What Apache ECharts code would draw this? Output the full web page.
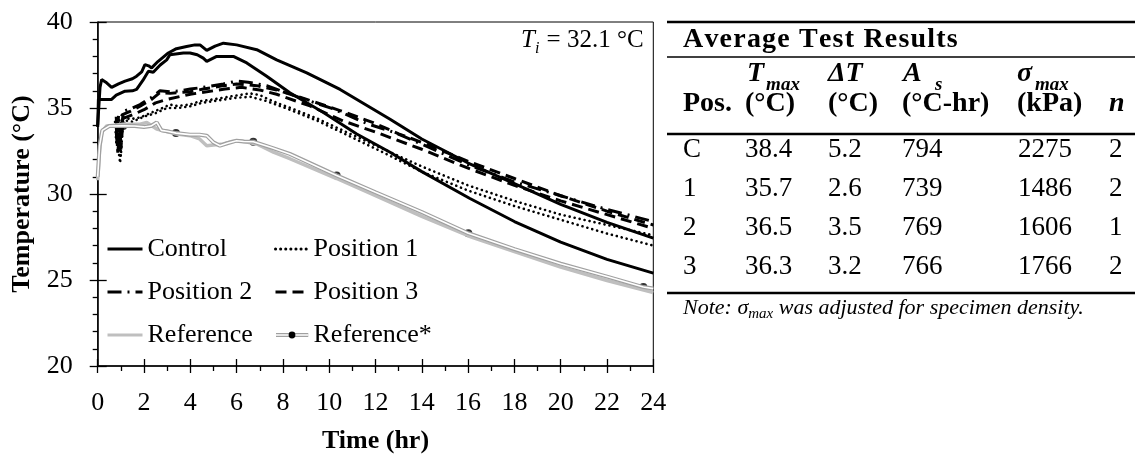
<!DOCTYPE html>
<html>
<head>
<meta charset="utf-8">
<script src="https://cdn.jsdelivr.net/npm/echarts@6/dist/echarts.min.js"></script>
<style>
  html, body { margin: 0; padding: 0; background: #fff; }
  #chart { width: 1135px; height: 459px; }
</style>
</head>
<body>
<div id="chart"></div>
<script>
// ---- axis ticks ----
const timeTicks = [0, 2, 4, 6, 8, 10, 12, 14, 16, 18, 20, 22, 24];
const tempTicks = [20, 25, 30, 35, 40];

// ---- temperature histories: [time (hr), temperature (°C)] ----
const controlA = [[0,34.0],[0.1,36.2],[0.17,36.66],[0.35,36.5],[0.6,36.2],[0.9,36.4],[1.18,36.56],[1.5,36.7],[1.68,36.85],[1.9,37.1],[2.04,37.52],[2.2,37.45],[2.33,37.33],[2.6,37.7],[3.05,38.2],[3.4,38.45],[3.84,38.58],[4.2,38.67],[4.42,38.67],[4.71,38.35],[5.07,38.6],[5.43,38.77],[6.0,38.67],[6.87,38.39],[7.73,37.8],[9.03,37.04],[10.47,36.08],[12.63,34.35],[14,33.2],[16,31.8],[18,30.6],[20,29.4],[22,28.35],[24,27.43]];
const controlB = [[0,33.9],[0.03,35.5],[0.3,35.5],[0.6,35.5],[0.8,35.75],[1.18,35.98],[1.5,36.0],[1.68,36.08],[1.95,36.6],[2.19,37.14],[2.4,37.08],[2.7,37.5],[2.98,37.8],[3.12,38.1],[3.7,38.2],[3.99,38.2],[4.3,38.1],[4.56,37.9],[4.71,37.71],[5.14,38.0],[5.86,38.0],[6.44,37.62],[7.3,36.85],[8.3,35.89],[9.75,34.74],[11.19,33.49],[12.63,32.43],[14,31.3],[16.08,29.74],[18,28.4],[20,27.2],[22,26.2],[24,25.4]];
const pos1A = [[0.75,34.2],[0.8,33.0],[0.85,34.4],[0.9,32.5],[0.97,31.8],[1.05,34.5],[1.4,34.35],[1.83,34.45],[2.33,34.74],[2.8,35.0],[3.12,35.2],[3.41,35.12],[3.99,35.2],[4.42,35.4],[5.0,35.5],[5.43,35.6],[5.86,35.7],[6.58,35.85],[7.0,35.75],[7.3,35.55],[8.02,35.15],[8.3,35.02],[9.46,34.4],[10.9,33.5],[12.2,32.7],[14,31.6],[16,30.5],[18,29.6],[20,28.8],[22,28.2],[24,27.6]];
const pos1B = [[0.8,33.8],[0.88,32.9],[0.92,33.6],[1.0,32.2],[1.1,34.3],[1.5,34.2],[2.0,34.5],[2.5,34.7],[3.0,35.0],[3.5,35.0],[4.0,35.1],[4.5,35.3],[5.0,35.4],[5.5,35.5],[6.0,35.6],[6.6,35.65],[7.3,35.4],[8.3,34.9],[9.5,34.25],[10.9,33.35],[12.2,32.5],[14,31.3],[16,30.2],[18,29.3],[20,28.5],[22,27.7],[24,27.0]];
const pos2 = [[0.8,34.5],[0.85,33.3],[0.9,34.6],[1.0,33.0],[1.1,34.8],[1.5,35.0],[1.83,35.2],[2.3,35.6],[2.69,36.0],[3.12,35.95],[3.6,36.0],[4.0,36.1],[4.56,36.2],[5.43,36.4],[6.0,36.56],[6.5,36.5],[7.3,36.3],[8.73,35.6],[10.17,34.95],[11.62,34.1],[12.77,33.6],[14,32.9],[16,31.7],[18,30.7],[20,29.9],[22,29.1],[24,28.4]];
const pos3A = [[0.8,34.0],[0.85,32.8],[0.9,33.9],[0.95,32.9],[1.05,34.6],[1.4,34.8],[1.83,35.1],[2.33,35.5],[2.69,35.9],[3.12,35.85],[4.0,35.95],[4.56,36.1],[5.43,36.3],[6.0,36.4],[6.87,36.3],[7.73,36.05],[9.03,35.5],[10.47,34.85],[11.9,34.15],[13,33.5],[14,33.0],[16,31.9],[18,30.9],[20,29.9],[22,29.0],[24,28.2]];
const pos3B = [[0.8,33.6],[0.87,32.4],[0.93,33.5],[1.0,32.6],[1.1,34.4],[1.5,34.6],[2.0,34.9],[2.5,35.3],[3.0,35.5],[4.0,35.8],[4.5,35.9],[5.5,36.1],[6.2,36.2],[7.0,36.05],[7.73,35.8],[9.17,35.12],[10.6,34.25],[12,33.6],[14,32.6],[16,31.5],[18,30.5],[20,29.6],[22,28.8],[24,28.0]];
const reference = [[0,30.8],[0.08,32.5],[0.17,33.58],[0.39,33.96],[1.1,34.06],[1.83,34.06],[2.12,34.16],[2.3,34.0],[2.55,33.78],[3.41,33.49],[3.99,33.39],[4.4,33.2],[4.71,32.81],[5.0,32.85],[5.43,32.91],[5.8,33.05],[6.15,33.1],[6.87,32.91],[7.59,32.43],[8.3,32.05],[10.32,30.9],[12,29.9],[14,28.7],[16.08,27.53],[18,26.65],[20,25.75],[22,24.97],[24,24.27]];
const referenceStar = [[0,31.0],[0.08,32.8],[0.2,33.7],[0.5,33.95],[1.1,33.96],[1.6,33.95],[2.0,33.9],[2.3,33.95],[2.55,34.16],[2.75,33.7],[3.0,33.65],[3.38,33.54],[3.99,33.45],[4.4,33.45],[4.71,33.39],[5.0,33.0],[5.28,32.81],[5.6,32.95],[6.0,33.1],[6.3,33.05],[6.72,33.04],[7.5,32.7],[8.3,32.33],[10.32,31.08],[12,30.1],[14,28.95],[16.01,27.72],[18,26.8],[20,25.95],[22,25.2],[23.57,24.59],[24,24.5]];
const referenceStarMarkTimes = [1.1, 3.38, 6.72, 10.32, 16.01, 23.57];

// ---- average test results table ----
const tablePos = ['C', '1', '2', '3'];
const tableTmax = ['38.4', '35.7', '36.5', '36.3'];
const tableDeltaT = ['5.2', '2.6', '3.5', '3.2'];
const tableAs = ['794', '739', '769', '766'];
const tableSigma = ['2275', '1486', '1606', '1766'];
const tableN = ['2', '2', '1', '2'];
const initialTemp = '32.1';

// ---------------------------------------------------------------
const SERIF = '"Liberation Serif", "Times New Roman", serif';
const measureCtx = document.createElement('canvas').getContext('2d');
function fontStr(size, bold, italic) {
  return (italic ? 'italic ' : '') + (bold ? 'bold ' : '') + size + 'px ' + SERIF;
}
function textW(str, size, bold, italic) {
  measureCtx.font = fontStr(size, bold, italic);
  return measureCtx.measureText(str).width;
}
function txt(x, y, str, size, bold, italic, align) {
  return {
    type: 'text', x: x, y: y, silent: true,
    style: {
      text: str, fill: '#000', fontFamily: SERIF, fontSize: size,
      fontWeight: bold ? 'bold' : 'normal', fontStyle: italic ? 'italic' : 'normal',
      align: align || 'left', verticalAlign: 'middle'
    }
  };
}
// text drawn character by character with extra tracking
function spacedTxt(out, x, y, str, size, bold, italic, track) {
  for (const ch of str) {
    out.push(txt(x, y, ch, size, bold, italic));
    x += textW(ch, size, bold, italic) + track;
  }
}
function rule(y, w) {
  return { type: 'line', silent: true, shape: { x1: 667, y1: y, x2: 1135, y2: y }, style: { stroke: '#000', lineWidth: w } };
}

const graphics = [];
// initial temperature note inside the plot
{
  const x0 = 521, y0 = 40, fs = 25;
  graphics.push(txt(x0, y0, 'T', fs, false, true));
  const wT = textW('T', fs, false, true);
  graphics.push(txt(x0 + wT, y0 + 9, 'i', 16, false, true));
  graphics.push(txt(x0 + wT + textW('i', 16, false, true) + 1, y0, ' = ' + initialTemp + ' °C', fs, false, false));
}
// table rules
graphics.push(rule(22, 2.5), rule(57, 1.5), rule(134, 2.5), rule(293, 2.5));
// table heading
const TS = 27, TB = 28, SUB = 19;
const colX = [683, 745, 828, 902, 1017, 1109];
spacedTxt(graphics, 683, 40, 'Average Test Results', TB, true, false, 1.2);
const h1 = 74, h2 = 104;
graphics.push(txt(colX[1] + 2, h1, 'T', TB, true, true));
graphics.push(txt(colX[1] + 2 + textW('T', TB, true, true) + 2, h1 + 11, 'max', SUB, true, true));
graphics.push(txt(colX[2], h1, 'ΔT', TB, true, true));
graphics.push(txt(colX[3] + 1, h1, 'A', TB, true, true));
graphics.push(txt(935, h1 + 11, 's', SUB, true, true));
graphics.push(txt(colX[4], h1, 'σ', TB, true, true));
graphics.push(txt(colX[4] + textW('σ', TB, true, true) + 3, h1 + 11, 'max', SUB, true, true));
const units = ['Pos.', '(°C)', '(°C)', '(°C-hr)', '(kPa)'];
units.forEach((u, i) => graphics.push(txt(colX[i], h2, u, TB, true, false)));
graphics.push(txt(colX[5], h2, 'n', TB, true, true));
// table body
const rowY = [150, 189, 228, 267];
const cols = [tablePos, tableTmax, tableDeltaT, tableAs, tableSigma, tableN];
rowY.forEach((y, r) => {
  cols.forEach((c, i) => graphics.push(txt(colX[i] + (i === 4 ? 1 : 0), y, c[r], TS, false, false)));
});
// footnote
{
  const y0 = 308, fs = 22, sub = 15;
  let x = 683;
  const a = 'Note: σ';
  graphics.push(txt(x, y0, a, fs, false, true));
  x += textW(a, fs, false, true);
  graphics.push(txt(x, y0 + 6, 'max', sub, false, true));
  x += textW('max', sub, false, true);
  graphics.push(txt(x, y0, ' was adjusted for specimen density.', fs, false, true));
}

// ---------------------------------------------------------------
const BLACK = '#000';
const GREY = '#bfbfbf';
const lineBase = { type: 'line', showSymbol: false, symbol: 'none', smooth: false, silent: true, emphasis: { disabled: true }, xAxisIndex: 0, yAxisIndex: 0 };
function mk(name, data, lineStyle, extra) {
  return Object.assign({}, lineBase, { name: name, data: data, lineStyle: lineStyle }, extra || {});
}
const styleControl = { color: BLACK, width: 3, type: 'solid' };
const styleP1 = { color: BLACK, width: 2.6, type: [0.1, 5], cap: 'round' };
const styleP2 = { color: BLACK, width: 3, type: [14, 6, 2, 6] };
const styleP3 = { color: BLACK, width: 3, type: [11, 6] };

const refStarIcon = 'image://data:image/svg+xml;charset=utf-8,' + encodeURIComponent(
  '<svg xmlns="http://www.w3.org/2000/svg" width="35" height="14">' +
  '<line x1="0" y1="7" x2="35" y2="7" stroke="#a0a0a0" stroke-width="4"/>' +
  '<line x1="0" y1="7" x2="35" y2="7" stroke="#ffffff" stroke-width="1.6"/>' +
  '<circle cx="17.5" cy="7" r="3.6" fill="#000"/></svg>');

const series = [
  mk('Control', controlA, styleControl, { itemStyle: { color: BLACK } }),
  mk('Control', controlB, styleControl, { itemStyle: { color: BLACK } }),
  mk('Position 1', pos1A, styleP1, { itemStyle: { color: BLACK } }),
  mk('Position 1', pos1B, styleP1, { itemStyle: { color: BLACK } }),
  mk('Position 2', pos2, styleP2, { itemStyle: { color: BLACK } }),
  mk('Position 3', pos3A, styleP3, { itemStyle: { color: BLACK } }),
  mk('Position 3', pos3B, styleP3, { itemStyle: { color: BLACK } }),
  mk('Reference', reference, { color: GREY, width: 3.5 }, { itemStyle: { color: GREY } }),
  mk('Reference*', referenceStar, { color: '#a0a0a0', width: 4 }, { itemStyle: { color: '#a0a0a0' } }),
  mk('Reference*', referenceStar, { color: '#ffffff', width: 1.6 }, { itemStyle: { color: '#ffffff' } }),
  {
    name: 'Reference*', type: 'scatter', silent: true, symbol: 'circle', symbolSize: 8,
    itemStyle: { color: BLACK }, emphasis: { disabled: true },
    data: referenceStar.filter(p => referenceStarMarkTimes.indexOf(p[0]) >= 0)
  }
];

const axisText = { fontFamily: SERIF, fontSize: 26, color: '#000' };
const tickLine = { color: '#000', width: 1.3 };
const xMin = timeTicks[0], xMax = timeTicks[timeTicks.length - 1], xStep = timeTicks[1] - timeTicks[0];
const yMin = tempTicks[0], yMax = tempTicks[tempTicks.length - 1], yStep = tempTicks[1] - tempTicks[0];

// legend: line swatches only (no point symbol); Reference* uses its own swatch
const legendCommon = {
  orient: 'vertical', top: 235, itemGap: 15, itemHeight: 14, padding: 0,
  selectedMode: false,
  itemStyle: { opacity: 0 },
  lineStyle: { width: 3 },
  textStyle: { fontFamily: SERIF, fontSize: 26, color: '#000', lineHeight: 28 }
};

const option = {
  animation: false,
  backgroundColor: '#fff',
  grid: { left: 97.7, right: 481.7, top: 22, bottom: 90, show: true, borderColor: '#000', borderWidth: 1, containLabel: false },
  xAxis: [
    {
      type: 'value', min: xMin, max: xMax, interval: xStep, position: 'bottom',
      axisLine: { show: true, onZero: false, lineStyle: { color: '#000', width: 1.5 } },
      axisTick: { show: true, length: 7, lineStyle: tickLine },
      minorTick: { show: true, splitNumber: 2, length: 5, lineStyle: tickLine },
      axisLabel: Object.assign({ margin: 24 }, axisText),
      splitLine: { show: false }, minorSplitLine: { show: false },
      name: 'Time (hr)', nameLocation: 'middle', nameGap: 62,
      nameTextStyle: Object.assign({}, axisText, { fontWeight: 'bold' })
    },
    {
      type: 'value', min: xMin, max: xMax, interval: xStep, position: 'bottom',
      axisLine: { show: false, onZero: false },
      axisTick: { show: true, inside: true, length: 7, lineStyle: tickLine },
      axisLabel: { show: false }, splitLine: { show: false }
    }
  ],
  yAxis: [
    {
      type: 'value', min: yMin, max: yMax, interval: yStep, position: 'left',
      axisLine: { show: true, onZero: false, lineStyle: { color: '#000', width: 1.5 } },
      axisTick: { show: true, length: 8, lineStyle: tickLine },
      minorTick: { show: true, splitNumber: 5, length: 5, lineStyle: tickLine },
      axisLabel: Object.assign({ margin: 25 }, axisText),
      splitLine: { show: false }, minorSplitLine: { show: false },
      name: 'Temperature (°C)', nameLocation: 'middle', nameGap: 62,
      nameTextStyle: Object.assign({}, axisText, { fontWeight: 'bold' })
    },
    {
      type: 'value', min: yMin, max: yMax, interval: yStep, position: 'left',
      axisLine: { show: false, onZero: false },
      axisTick: { show: true, inside: true, length: 9, lineStyle: tickLine },
      axisLabel: { show: false }, splitLine: { show: false }
    }
  ],
  legend: [
    Object.assign({}, legendCommon, { left: 106, itemWidth: 35, data: ['Control', 'Position 2', 'Reference'] }),
    Object.assign({}, legendCommon, { left: 274, itemWidth: 33, data: ['Position 1', 'Position 3', { name: 'Reference*', icon: refStarIcon, itemStyle: { opacity: 1 } }] })
  ],
  graphic: graphics,
  series: series
};

const chart = echarts.init(document.getElementById('chart'), null, { renderer: 'canvas' });
chart.setOption(option);
</script>
</body>
</html>
